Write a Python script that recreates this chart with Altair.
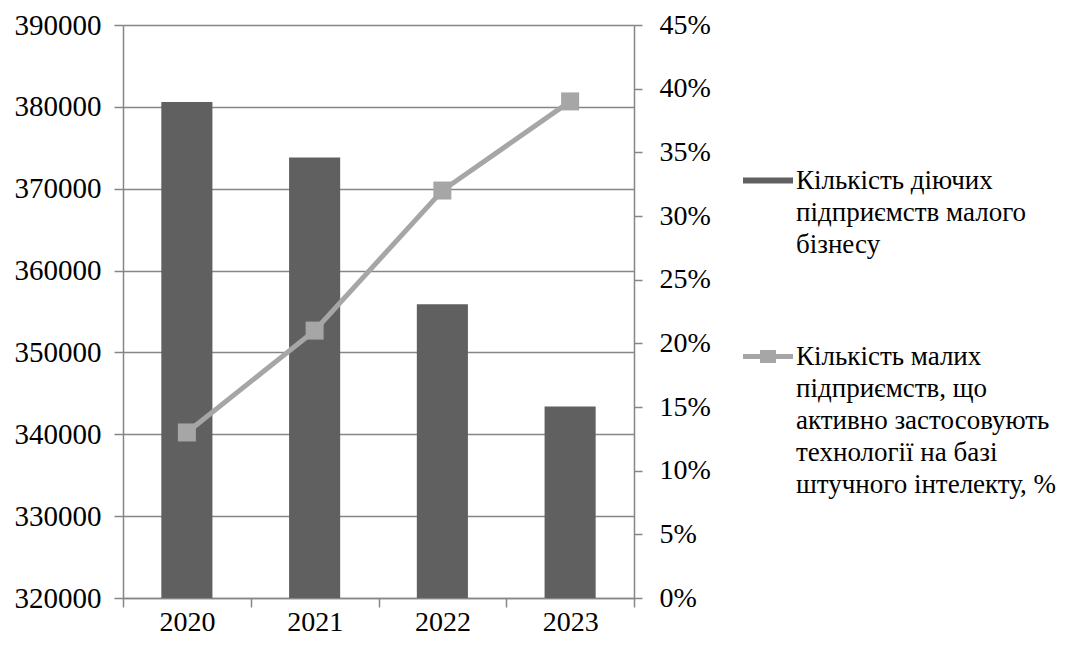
import altair as alt
import pandas as pd

years = ["2020", "2021", "2022", "2023"]
enterprises = [380600, 373800, 355900, 343400]
ai_share = [0.13, 0.21, 0.32, 0.39]
left_ticks = [320000, 330000, 340000, 350000, 360000, 370000, 380000, 390000]
right_ticks = [0, 0.05, 0.10, 0.15, 0.20, 0.25, 0.30, 0.35, 0.40, 0.45]
label_bar = "Кількість діючих\nпідприємств малого\nбізнесу"
label_line = "Кількість малих\nпідприємств, що\nактивно застосовують\nтехнології на базі\nштучного інтелекту, %"

df = pd.DataFrame({
    "year": years,
    "count": enterprises,
    "share": ai_share,
    "s_bar": [label_bar] * len(years),
    "s_line": [label_line] * len(years),
})

GRID = "#868686"
FONT = "Liberation Serif"

x_enc = alt.X(
    "year:N",
    scale=alt.Scale(paddingInner=0, paddingOuter=0),
    axis=alt.Axis(title=None, labelAngle=0, tickBand="extent", tickSize=9,
                  labelPadding=1, grid=False, labelFont=FONT, labelFontSize=28),
)

y_left = alt.Y(
    "count:Q",
    scale=alt.Scale(domain=[320000, 390000], nice=False, zero=False),
    axis=alt.Axis(title=None, values=left_ticks, format="d", grid=True,
                  tickSize=9, labelPadding=13, labelFont=FONT, labelFontSize=29),
)

y_right = alt.Y(
    "share:Q",
    scale=alt.Scale(domain=[0, 0.45], nice=False, zero=False),
    axis=alt.Axis(title=None, orient="right", values=right_ticks, format=".0%",
                  grid=False, tickSize=8, labelPadding=17, labelFont=FONT,
                  labelFontSize=28),
)

legend_common = dict(
    title=None, orient="none", padding=0, symbolStrokeWidth=0,
    labelExpr="split(datum.label, '\\n')", labelBaseline="top",
    labelOffset=3, labelLimit=400, labelFont=FONT, labelFontSize=27,
    labelColor="black",
)

bars = alt.Chart(df).mark_bar(width=alt.RelativeBandSize(0.4)).encode(
    x=x_enc,
    y=y_left,
    y2=alt.datum(320000),
    fill=alt.Fill(
        "s_bar:N",
        scale=alt.Scale(range=["#606060"]),
        legend=alt.Legend(legendX=620, legendY=118,
                          symbolType="M-1,0.38H1V0.62H-1Z", symbolSize=2500,
                          **legend_common),
    ),
)

line = alt.Chart(df).mark_line(color="#a6a6a6", strokeWidth=5).encode(
    x=x_enc, y=y_right
)

points = alt.Chart(df).mark_point(shape="square", filled=True, size=324, opacity=1).encode(
    x=x_enc,
    y=y_right,
    fill=alt.Fill(
        "s_line:N",
        scale=alt.Scale(range=["#a6a6a6"]),
        legend=alt.Legend(
            legendX=620, legendY=294,
            symbolType="M-1,0.4H-0.32V0.24H0.32V0.4H1V0.6H0.32V0.76H-0.32V0.6H-1Z",
            symbolSize=2500, **legend_common),
    ),
)

right_layer = alt.layer(line, points)

chart = alt.layer(bars, right_layer).resolve_scale(
    y="independent", fill="independent"
).properties(
    width=511, height=573,
    autosize=alt.AutoSizeParams(type="none"),
    padding={"left": 115, "top": 17, "right": 447, "bottom": 40},
).configure(
    style={"guide-label": {"lineHeight": 32}},
).configure_axis(
    labelColor="black",
    domainColor=GRID, tickColor=GRID, gridColor=GRID,
    domainWidth=1.5, tickWidth=1.5, gridWidth=1.5,
).configure_view(stroke=None)

chart.save("out.html", embed_options={"renderer": "svg", "actions": False})
